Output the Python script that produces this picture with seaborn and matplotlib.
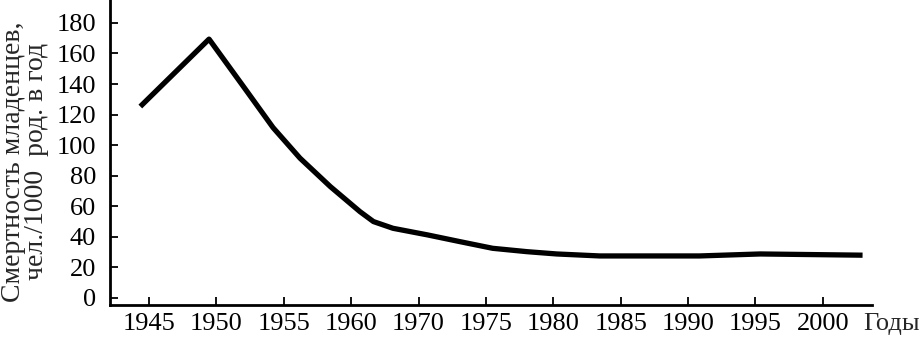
import matplotlib
matplotlib.use("Agg")
import matplotlib.pyplot as plt
import seaborn as sns
import pandas as pd

# Tick labels on the (non-uniform) year axis; each label occupies one equal slot
year_labels = ["1945", "1950", "1955", "1960", "1970", "1975",
               "1980", "1985", "1990", "1995", "2000"]

# Curve points: position along the label slots (0 = 1945 tick) and value
curve_pos = [-0.13, 0.89, 1.40, 1.84, 2.24, 2.69, 3.13, 3.33,
             3.62, 4.13, 4.61, 5.10, 5.61, 6.05, 6.69, 8.17, 9.07, 10.59]
curve_val = [125.3, 169.4, 138.4, 111.5, 91.5, 72.9, 56.5, 50.0,
             45.6, 41.3, 36.9, 32.5, 30.3, 28.8, 27.5, 27.5, 28.8, 28.0]

df = pd.DataFrame({"pos": curve_pos, "val": curve_val})

sns.set_style("ticks")
plt.rcParams["font.family"] = ["Liberation Serif", "DejaVu Serif"]

fig = plt.figure(figsize=(9.21, 3.41), dpi=100)
ax = fig.add_axes([110 / 921, 36 / 341, (872 - 110) / 921, 305 / 341])

sns.lineplot(data=df, x="pos", y="val", ax=ax, color="black",
             linewidth=3.8, sort=False, solid_joinstyle="round",
             solid_capstyle="butt")

ax.set_xlim(-0.58, 10.73)
ax.set_ylim(-4.6, 195)
ax.set_xticks(range(len(year_labels)))
ax.set_xticklabels(year_labels)
ax.set_yticks(range(0, 181, 20))

for s in ["top", "right"]:
    ax.spines[s].set_visible(False)
for s in ["left", "bottom"]:
    ax.spines[s].set_linewidth(2)
    ax.spines[s].set_color("black")

ax.tick_params(axis="both", direction="in", length=6, width=1.3,
               labelsize=19, colors="black")
ax.tick_params(axis="y", pad=10)
ax.tick_params(axis="x", pad=6)

ax.set_xlabel("")
ax.set_ylabel("Смертность младенцев,\nчел./1000  род. в год",
              fontsize=20, linespacing=0.9, labelpad=5)
ax.yaxis.set_label_coords(-0.080, 0.47)

fig.text(920 / 921, 1 - 313 / 341, "Годы", fontsize=19,
         ha="right", va="top")

fig.savefig("out.png", dpi=100)
